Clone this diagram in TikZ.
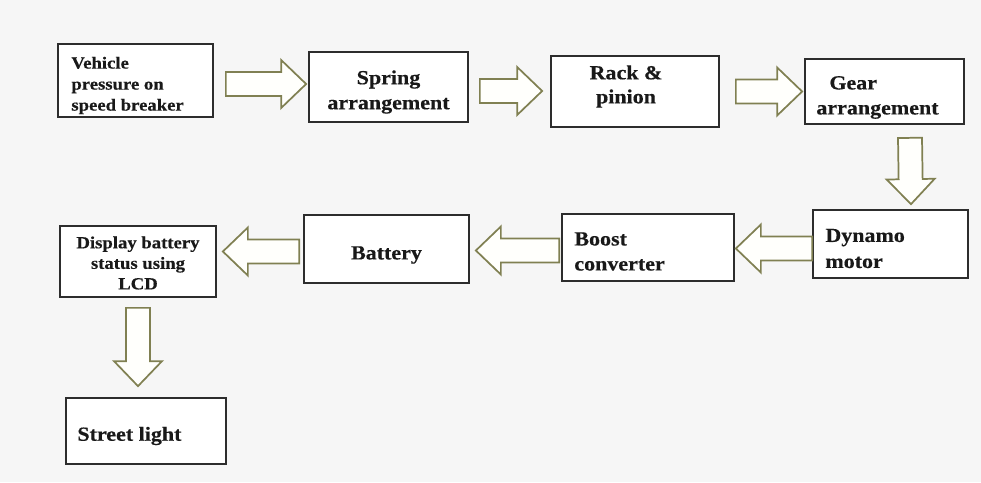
\documentclass[tikz,border=0pt]{standalone}
\usepackage{fontspec}
\setmainfont{Liberation Serif}[FakeStretch=1.1, BoldFeatures={FakeBold=0.4}]
\usetikzlibrary{calc}
\definecolor{olivearr}{RGB}{128,128,82}
\definecolor{arrfill}{RGB}{255,255,252}
\definecolor{boxline}{RGB}{45,45,45}
\definecolor{bgcol}{RGB}{246,246,246}
\definecolor{ink}{RGB}{25,25,25}
\newcommand\blockarrow[2]{%
  \coordinate (hb) at ($(#2)!18.75pt!(#1)$);
  \draw[barrow] ($(#1)!9pt!90:(#2)$) -- ($(hb)!9pt!90:(#2)$) -- ($(hb)!18pt!90:(#2)$) -- (#2)
    -- ($(hb)!18pt!-90:(#2)$) -- ($(hb)!9pt!-90:(#2)$) -- ($(#1)!9pt!-90:(#2)$) -- cycle;}
\begin{document}
\begin{tikzpicture}[x=0.75pt,y=-0.75pt,
  box/.style={draw=boxline, line width=1.3pt, fill=white, inner sep=0pt},
  lbl/.style={text=ink, inner sep=0pt, font=\bfseries\fontsize{15pt}{18.75pt}\selectfont},
  small/.style={font=\bfseries\fontsize{12.75pt}{15.75pt}\selectfont},
  barrow/.style={draw=olivearr, line width=1.3pt, fill=arrfill, line join=miter}]
\fill[bgcol] (0,0) rectangle (981,482);
\useasboundingbox (0,0) rectangle (981,482);

% boxes
\node[box, minimum width=116.25pt, minimum height=54.75pt] (veh) at (135.5,80.5) {};
\node[box, minimum width=119.25pt, minimum height=52.5pt] (spring) at (388.5,87) {};
\node[box, minimum width=126pt, minimum height=53.25pt] (rack) at (635,91.5) {};
\node[box, minimum width=119.25pt, minimum height=48.75pt] (gear) at (884.5,91.5) {};
\node[box, minimum width=116.25pt, minimum height=51pt] (dynamo) at (890.5,244) {};
\node[box, minimum width=129pt, minimum height=50.25pt] (boost) at (648,247.5) {};
\node[box, minimum width=123.75pt, minimum height=51pt] (battery) at (386.5,249) {};
\node[box, minimum width=117pt, minimum height=53.25pt] (display) at (138,261.5) {};
\node[box, minimum width=120pt, minimum height=49.5pt] (street) at (146,431) {};

% texts
\node[lbl, small, anchor=west, align=left] (veh-t) at ($(veh.west)+(14,5)$) {Vehicle\\pressure on\\speed breaker};
\node[lbl, align=center] (spring-t) at ($(spring.center)+(0,5)$) {Spring\\arrangement};
\node[lbl, align=center, font=\bfseries\fontsize{15pt}{18pt}\selectfont] (rack-t) at ($(rack.center)+(-9,-5)$) {Rack \&\\pinion};
\node[lbl, anchor=west, align=left] (gear-t) at ($(gear.west)+(12,6)$) {\hspace*{9.75pt}Gear\\arrangement};
\node[lbl, anchor=west, align=left, font=\bfseries\fontsize{15pt}{19.5pt}\selectfont] (dynamo-t) at ($(dynamo.west)+(13,4.5)$) {Dynamo\\motor};
\node[lbl, anchor=west, align=left] (boost-t) at ($(boost.west)+(13,4)$) {Boost\\converter};
\node[lbl] (battery-t) at ($(battery.center)+(0,6)$) {Battery};
\node[lbl, small, align=center, font=\bfseries\fontsize{12.75pt}{15.4pt}\selectfont] (display-t) at ($(display.center)+(0,1.5)$) {Display battery\\status using\\LCD};
\node[lbl, anchor=west] (street-t) at ($(street.west)+(12,5)$) {Street light};

% connector ends
\coordinate (a1s) at ($(veh.east)+(12,3.5)$);
\coordinate (a1e) at ($(spring.west)+(-2,-3)$);
\coordinate (a2s) at ($(spring.east)+(11,4)$);
\coordinate (a2e) at ($(rack.west)+(-8,-0.5)$);
\coordinate (a3s) at ($(rack.east)+(16,0)$);
\coordinate (a3e) at ($(gear.west)+(-2,0)$);
\coordinate (a4s) at ($(gear.south)+(25.5,13)$);
\coordinate (a4e) at ($(dynamo.north)+(20.5,-5)$);
\coordinate (a5s) at ($(dynamo.west)+(0,4.5)$);
\coordinate (a5e) at ($(boost.east)+(1,1)$);
\coordinate (a6s) at ($(boost.west)+(-2,3)$);
\coordinate (a6e) at ($(battery.east)+(6,1.5)$);
\coordinate (a7s) at ($(battery.west)+(-4,2.5)$);
\coordinate (a7e) at ($(display.east)+(6,-10)$);
\coordinate (a8s) at ($(display.south)+(0,10)$);
\coordinate (a8e) at ($(street.north)+(-8,-11)$);

\blockarrow{a1s}{a1e}
\blockarrow{a2s}{a2e}
\blockarrow{a3s}{a3e}
\blockarrow{a4s}{a4e}
\blockarrow{a5s}{a5e}
\blockarrow{a6s}{a6e}
\blockarrow{a7s}{a7e}
\blockarrow{a8s}{a8e}
\end{tikzpicture}
\end{document}
